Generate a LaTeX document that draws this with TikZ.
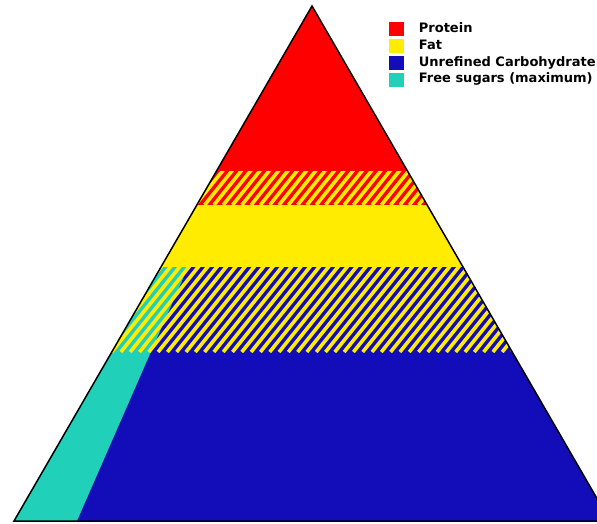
\documentclass[tikz,border=0pt]{standalone}
\usepackage{fontspec}
\setmainfont{DejaVu Sans}
\usetikzlibrary{positioning}
\definecolor{protc}{RGB}{255,0,0}
\definecolor{fatc}{RGB}{255,236,0}
\definecolor{carbc}{RGB}{18,12,185}
\definecolor{sugarc}{RGB}{32,208,184}

\begin{document}
\begin{tikzpicture}[x=1pt, y=-1pt,
  stripes/.style={fatc, line width=3.6pt},
  key/.style={rectangle, minimum width=15pt, minimum height=14pt, inner sep=0pt},
  keytext/.style={anchor=west, inner sep=0pt, text height=9pt, text depth=2.5pt,
    font=\bfseries\fontsize{13}{13}\selectfont}]
  \useasboundingbox (0,0) rectangle (597,524);
  \coordinate (top) at (312,6);
  \coordinate (bl) at (14,521);
  \coordinate (br) at (610,521);

  \begin{scope}
    \clip (top) -- (bl) -- (br) -- cycle;
    % layers
    \fill[protc] (0,0) rectangle (620,205);
    \fill[fatc] (0,205) rectangle (620,267);
    \fill[carbc] (0,267) rectangle (620,530);
    \fill[sugarc] (188,267) -- (73,530) -- (0,530) -- (0,267) -- cycle;
    % hatched bands
    \begin{scope}
      \clip (0,171) rectangle (620,205);
      \foreach \i in {-10,...,75} \draw[stripes] (9.3*\i,205) -- ++(40,-50);
    \end{scope}
    \begin{scope}
      \clip (0,267) rectangle (620,352);
      \foreach \i in {-15,...,75} \draw[stripes] (9.3*\i,352) -- ++(80,-100);
    \end{scope}
  \end{scope}
  \draw[line width=1.5pt] (top) -- (bl) -- (br) -- cycle;

  % legend
  \node[key, fill=protc] (kprot) at (396,29) {};
  \node[key, fill=fatc, below=2.5pt of kprot] (kfat) {};
  \node[key, fill=carbc, below=2.5pt of kfat] (kcarb) {};
  \node[key, fill=sugarc, below=2.5pt of kcarb] (ksugar) {};
  \node[keytext, right=15pt of kprot] (tprot) {Protein};
  \node[keytext, right=15pt of kfat] (tfat) {Fat};
  \node[keytext, right=15pt of kcarb] (tcarb) {Unrefined Carbohydrate};
  \node[keytext, right=15pt of ksugar] (tsugar) {Free sugars (maximum)};
\end{tikzpicture}
\end{document}
